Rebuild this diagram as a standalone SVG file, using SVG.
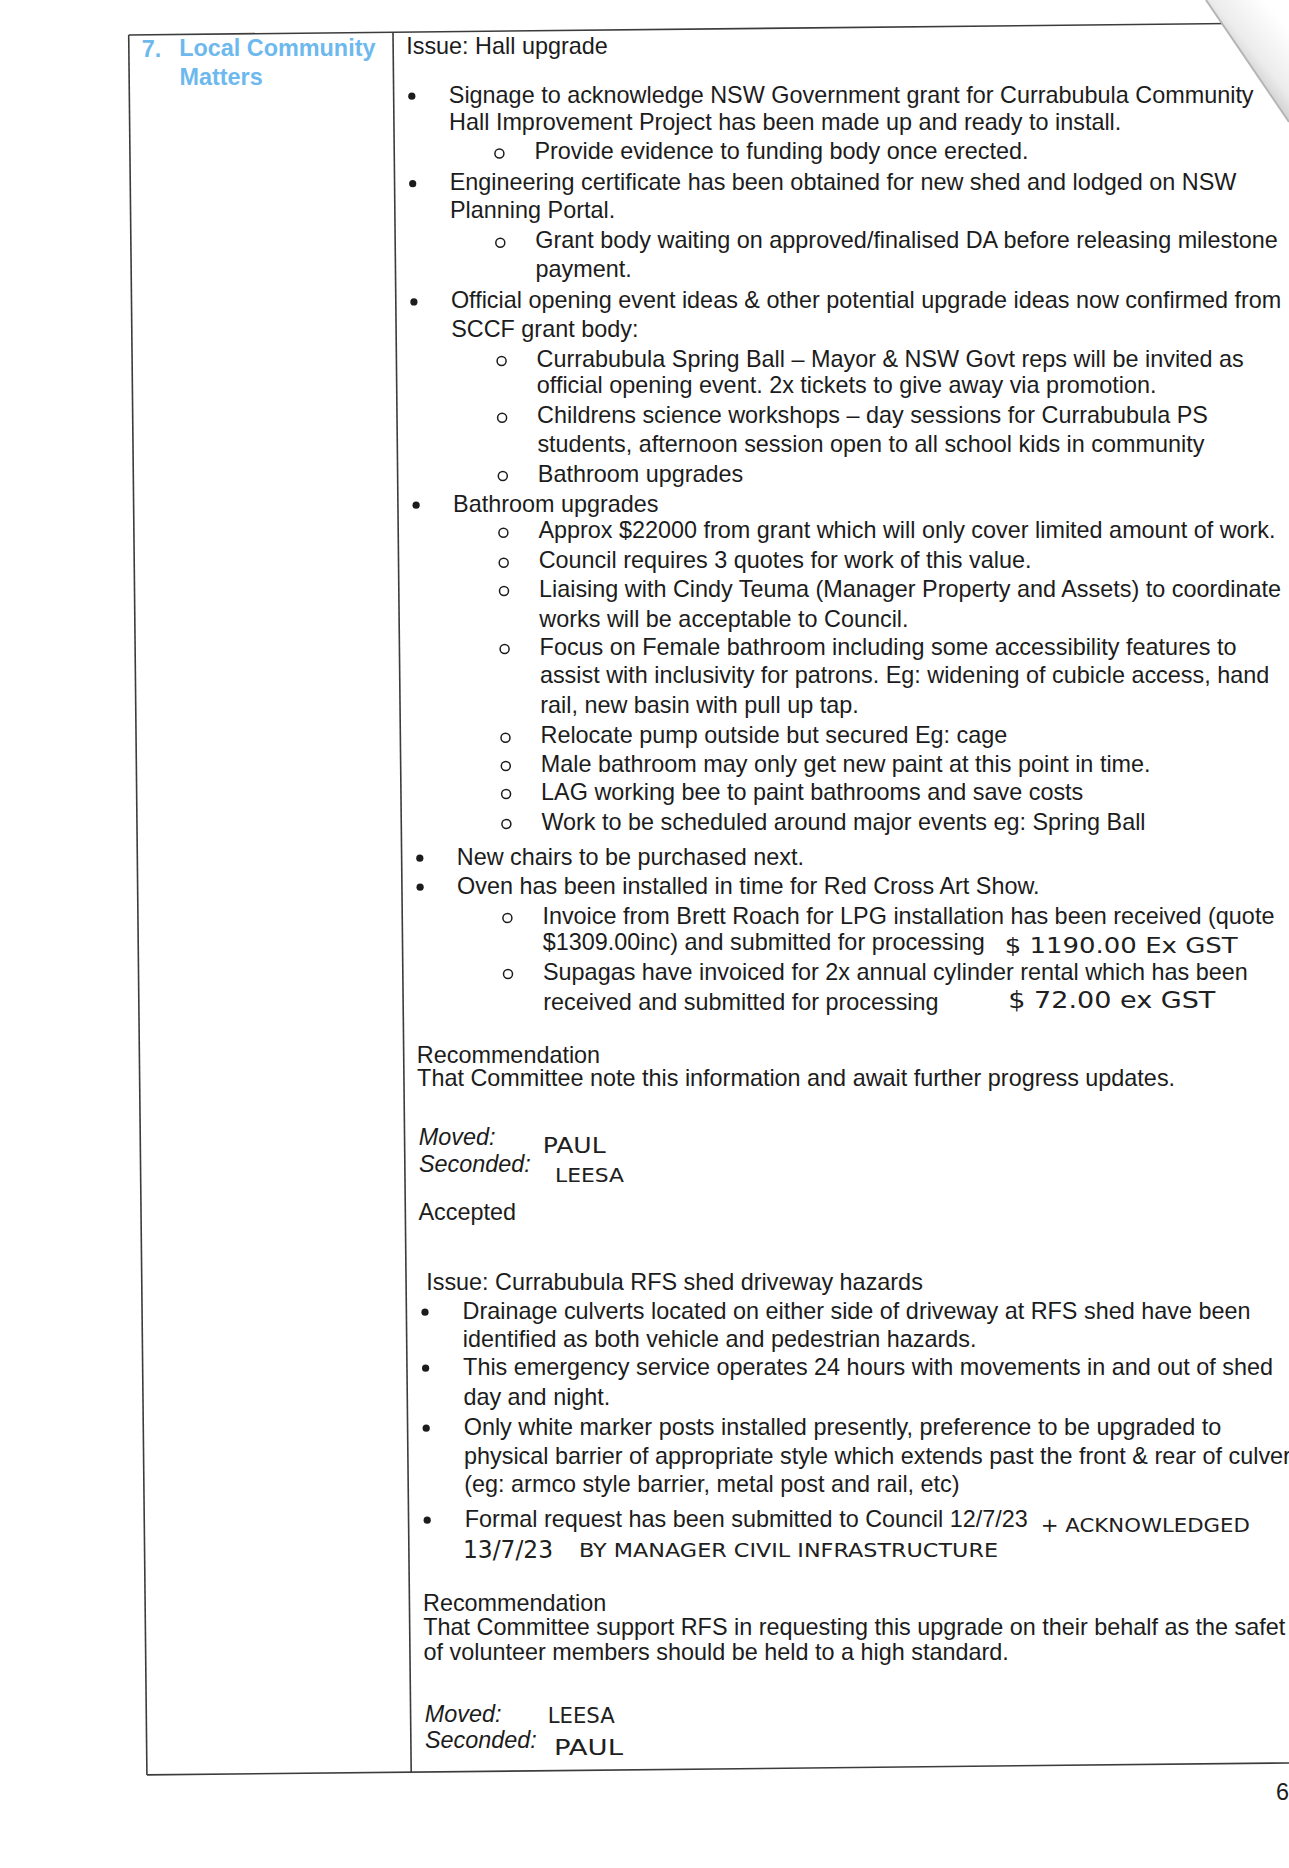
<svg xmlns="http://www.w3.org/2000/svg" width="1289" height="1868" viewBox="0 0 1289 1868">
<style>
.t{font-family:"Liberation Sans",Arial,sans-serif;font-size:23.4px;fill:#1c1c1c}
.i{font-style:italic}
.h{font-family:"Liberation Sans",Arial,sans-serif;font-size:23.4px;font-weight:bold;fill:#6db9ee}
.hw{font-family:"DejaVu Sans",sans-serif;fill:#202020}
.dot{fill:#1c1c1c}
.circ{fill:none;stroke:#1c1c1c;stroke-width:1.5}
.rule{stroke:#3c3c3c;stroke-width:1.6;fill:none}
</style>
<defs>
<linearGradient id="curl" x1="1240" y1="70" x2="1289" y2="30" gradientUnits="userSpaceOnUse">
<stop offset="0" stop-color="#c9c9c9"/>
<stop offset="0.35" stop-color="#ececec"/>
<stop offset="1" stop-color="#ffffff"/>
</linearGradient>
</defs>
<rect width="1289" height="1868" fill="#ffffff"/>
<g id="table-lines" transform="rotate(-0.6 129 35)">
<line class="rule" x1="128.7" y1="35" x2="1230" y2="35"/>
<line class="rule" x1="128.7" y1="35" x2="128.7" y2="1775"/>
<line class="rule" x1="393" y1="35" x2="393" y2="1775"/>
<line class="rule" x1="128.7" y1="1775" x2="1310" y2="1775"/>
</g>
<g id="heading">
<text class="h" x="141.7" y="57.3">7.</text>
<text class="h" x="179.2" y="56">Local Community</text>
<text class="h" x="179.5" y="84.5">Matters</text>
</g>
<g id="bullets">
<circle class="dot" cx="411.8" cy="96.2" r="3.6"/>
<circle class="dot" cx="412.7" cy="183.7" r="3.6"/>
<circle class="dot" cx="413.9" cy="301.9" r="3.6"/>
<circle class="dot" cx="416.1" cy="505.2" r="3.6"/>
<circle class="dot" cx="419.8" cy="858.2" r="3.6"/>
<circle class="dot" cx="420.1" cy="887.2" r="3.6"/>
<circle class="dot" cx="425" cy="1312.2" r="3.6"/>
<circle class="dot" cx="425.6" cy="1368.2" r="3.6"/>
<circle class="dot" cx="426.2" cy="1428.2" r="3.6"/>
<circle class="dot" cx="427.2" cy="1520.2" r="3.6"/>
<circle class="circ" cx="499.4" cy="153.5" r="4.5"/>
<circle class="circ" cx="500.3" cy="242.7" r="4.5"/>
<circle class="circ" cx="501.6" cy="361" r="4.5"/>
<circle class="circ" cx="502.1" cy="417.7" r="4.5"/>
<circle class="circ" cx="502.8" cy="476" r="4.5"/>
<circle class="circ" cx="503.4" cy="532.7" r="4.5"/>
<circle class="circ" cx="503.7" cy="562.7" r="4.5"/>
<circle class="circ" cx="504" cy="591" r="4.5"/>
<circle class="circ" cx="504.6" cy="649" r="4.5"/>
<circle class="circ" cx="505.5" cy="737.7" r="4.5"/>
<circle class="circ" cx="505.8" cy="766" r="4.5"/>
<circle class="circ" cx="506.1" cy="794" r="4.5"/>
<circle class="circ" cx="506.4" cy="824" r="4.5"/>
<circle class="circ" cx="507.4" cy="918" r="4.5"/>
<circle class="circ" cx="508" cy="974" r="4.5"/>
</g>
<g id="hall-upgrade">
<text class="t" x="406.2" y="54.1">Issue: Hall upgrade</text>
<text class="t" x="448.8" y="102.5">Signage to acknowledge NSW Government grant for Currabubula Community</text>
<text class="t" x="449.1" y="130">Hall Improvement Project has been made up and ready to install.</text>
<text class="t" x="534.4" y="159.1">Provide evidence to funding body once erected.</text>
<text class="t" x="449.7" y="190">Engineering certificate has been obtained for new shed and lodged on NSW</text>
<text class="t" x="450" y="218.2">Planning Portal.</text>
<text class="t" x="535.3" y="248.3">Grant body waiting on approved/finalised DA before releasing milestone</text>
<text class="t" x="535.6" y="276.6">payment.</text>
<text class="t" x="450.9" y="308.2">Official opening event ideas &amp; other potential upgrade ideas now confirmed from</text>
<text class="t" x="451.2" y="336.5">SCCF grant body:</text>
<text class="t" x="536.6" y="366.6">Currabubula Spring Ball – Mayor &amp; NSW Govt reps will be invited as</text>
<text class="t" x="536.8" y="393.1">official opening event. 2x tickets to give away via promotion.</text>
<text class="t" x="537.1" y="423.3">Childrens science workshops – day sessions for Currabubula PS</text>
<text class="t" x="537.4" y="451.6">students, afternoon session open to all school kids in community</text>
<text class="t" x="537.8" y="481.6">Bathroom upgrades</text>
<text class="t" x="453.1" y="511.5">Bathroom upgrades</text>
<text class="t" x="538.4" y="538.3">Approx $22000 from grant which will only cover limited amount of work.</text>
<text class="t" x="538.7" y="568.3">Council requires 3 quotes for work of this value.</text>
<text class="t" x="539" y="596.6">Liaising with Cindy Teuma (Manager Property and Assets) to coordinate</text>
<text class="t" x="539.3" y="626.6">works will be acceptable to Council.</text>
<text class="t" x="539.6" y="654.6">Focus on Female bathroom including some accessibility features to</text>
<text class="t" x="539.9" y="683.3">assist with inclusivity for patrons. Eg: widening of cubicle access, hand</text>
<text class="t" x="540.2" y="713.3">rail, new basin with pull up tap.</text>
<text class="t" x="540.5" y="743.3">Relocate pump outside but secured Eg: cage</text>
<text class="t" x="540.8" y="771.6">Male bathroom may only get new paint at this point in time.</text>
<text class="t" x="541.1" y="799.6">LAG working bee to paint bathrooms and save costs</text>
<text class="t" x="541.4" y="829.6">Work to be scheduled around major events eg: Spring Ball</text>
<text class="t" x="456.8" y="864.5">New chairs to be purchased next.</text>
<text class="t" x="457.1" y="893.5">Oven has been installed in time for Red Cross Art Show.</text>
<text class="t" x="542.4" y="923.6">Invoice from Brett Roach for LPG installation has been received (quote</text>
<text class="t" x="542.7" y="950.1">$1309.00inc) and submitted for processing</text>
<text class="t" x="543" y="979.6">Supagas have invoiced for 2x annual cylinder rental which has been</text>
<text class="t" x="543.3" y="1009.6">received and submitted for processing</text>
<text class="t"><tspan x="416.8" y="1062.5">Recommendation</tspan><tspan x="417.1" y="1085.5">That Committee note this information and await further progress updates.</tspan></text>
<text class="t i"><tspan x="418.7" y="1144.7">Moved:</tspan><tspan x="418.9" y="1171.5">Seconded:</tspan></text>
<text class="t" x="418.4" y="1219.6">Accepted</text>
</g>
<g id="rfs-driveway">
<text class="t" x="426.2" y="1290.4">Issue: Currabubula RFS shed driveway hazards</text>
<text class="t" x="462.5" y="1318.5">Drainage culverts located on either side of driveway at RFS shed have been</text>
<text class="t" x="462.8" y="1346.5">identified as both vehicle and pedestrian hazards.</text>
<text class="t" x="463.1" y="1374.5">This emergency service operates 24 hours with movements in and out of shed</text>
<text class="t" x="463.4" y="1404.5">day and night.</text>
<text class="t" x="463.7" y="1434.5">Only white marker posts installed presently, preference to be upgraded to</text>
<text class="t" x="464" y="1463.5">physical barrier of appropriate style which extends past the front &amp; rear of culver</text>
<text class="t" x="464.3" y="1491.5">(eg: armco style barrier, metal post and rail, etc)</text>
<text class="t" x="464.7" y="1526.5">Formal request has been submitted to Council 12/7/23</text>
<text class="t"><tspan x="423" y="1611.1">Recommendation</tspan><tspan x="423.3" y="1634.6">That Committee support RFS in requesting this upgrade on their behalf as the safet</tspan><tspan x="423.6" y="1660">of volunteer members should be held to a high standard.</tspan></text>
<text class="t i"><tspan x="424.7" y="1721.7">Moved:</tspan><tspan x="425" y="1747.5">Seconded:</tspan></text>
</g>
<g id="handwriting">
<text class="hw" x="1004.7" y="952.5" font-size="22" textLength="233" lengthAdjust="spacingAndGlyphs">$ 1190.00 Ex GST</text>
<text class="hw" x="1008.3" y="1008" font-size="23" textLength="207" lengthAdjust="spacingAndGlyphs">$ 72.00 ex GST</text>
<text class="hw" x="542.7" y="1152.5" font-size="22" textLength="63" lengthAdjust="spacingAndGlyphs">PAUL</text>
<text class="hw" x="555" y="1181.8" font-size="20" textLength="69" lengthAdjust="spacingAndGlyphs">LEESA</text>
<text class="hw" x="1040.8" y="1531.5" font-size="19" textLength="209" lengthAdjust="spacingAndGlyphs">+ ACKNOWLEDGED</text>
<text class="hw" x="463" y="1557.7" font-size="24" textLength="90" lengthAdjust="spacingAndGlyphs">13/7/23</text>
<text class="hw" x="579" y="1557" font-size="19" textLength="419" lengthAdjust="spacingAndGlyphs">BY MANAGER CIVIL INFRASTRUCTURE</text>
<text class="hw" x="547.7" y="1722.5" font-size="21" textLength="67" lengthAdjust="spacingAndGlyphs">LEESA</text>
<text class="hw" x="554" y="1754.9" font-size="22" textLength="69" lengthAdjust="spacingAndGlyphs">PAUL</text>
</g>
<g id="page-curl">
<polygon points="1206,0 1289,0 1289,122" fill="url(#curl)"/>
<line x1="1206" y1="0" x2="1289" y2="122" stroke="#b5b5b5" stroke-width="2"/>
</g>
<g id="page-number">
<text class="t" x="1276" y="1800">6</text>
</g>
</svg>
